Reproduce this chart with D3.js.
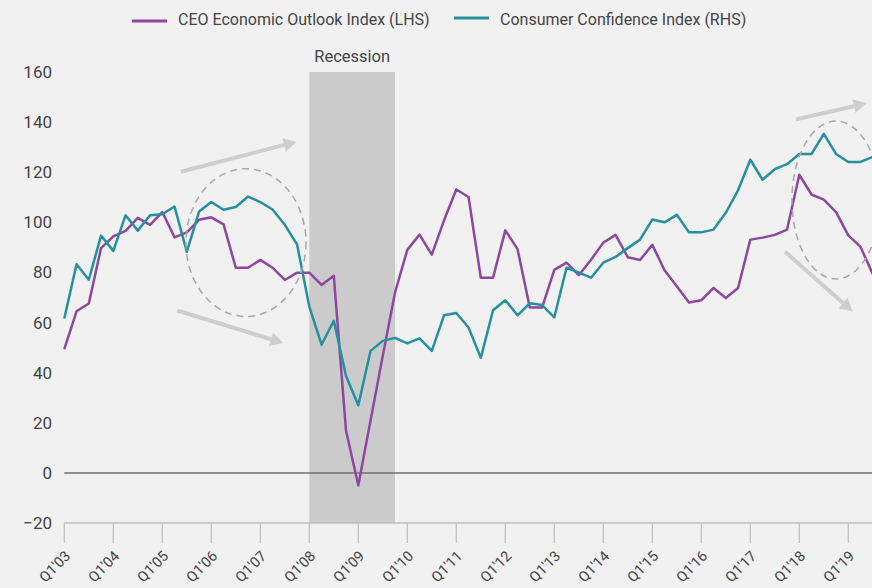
<!DOCTYPE html>
<html>
<head>
<meta charset="utf-8">
<script src="https://cdn.jsdelivr.net/npm/d3@7"></script>
<style>
  body { margin: 0; background: #f1f1f1; }
  svg { display: block; font-family: Roboto, "Open Sans", sans-serif; }
</style>
</head>
<body>
<svg id="chart" width="872" height="588"></svg>
<script>
// chart data
const years = ["03","04","05","06","07","08","09","10","11","12","13","14","15","16","17","18","19"]
const quarters = years.flatMap(y => ["Q1","Q2","Q3","Q4"].map(q => q + "'" + y)).slice(0, 67)
const tickLabels = years.map(y => "Q1'" + y)
const yTicks = [-20, 0, 20, 40, 60, 80, 100, 120, 140, 160]

const ceo = [49.4, 64.5, 67.6, 89.7, 94.4, 96.6, 101.8, 99.0, 104.1, 94.0,
  96.0, 101.0, 102.0, 99.2, 81.9, 81.9, 85.0, 81.9, 77.0, 79.9,
  79.9, 75.0, 78.7, 16.8, -4.9, 20.9, 46.8, 72.0, 89.0, 95.1,
  87.1, 100.8, 113.1, 110.1, 77.9, 77.9, 96.8, 89.3, 66.0, 66.0,
  81.0, 83.9, 78.9, 85.1, 91.9, 95.0, 86.1, 85.0, 91.0, 80.9,
  74.5, 68.0, 68.9, 73.8, 69.8, 73.8, 93.1, 93.9, 95.0, 97.1,
  119.0, 111.1, 109.1, 104.1, 94.8, 90.2, 79.3]
const consumer = [61.6, 83.3, 77.1, 94.7, 88.6, 102.8, 96.7, 102.8, 103.2, 106.3,
  88.2, 104.3, 108.1, 105.0, 106.1, 110.3, 108.1, 105.1, 99.0, 91.2,
  66.4, 51.2, 60.7, 38.7, 27.0, 48.7, 52.7, 53.9, 51.7, 53.7,
  48.7, 62.9, 63.8, 58.0, 45.9, 64.9, 68.9, 62.9, 67.7, 67.0,
  62.1, 81.9, 79.9, 77.9, 83.9, 86.2, 89.7, 93.1, 101.1, 100.0,
  103.0, 96.0, 96.0, 97.1, 103.8, 112.8, 125.0, 117.0, 121.2, 123.2,
  127.3, 127.3, 135.3, 127.3, 124.1, 124.1, 126.1]

const recession = ["Q1'08", "Q4'09"]

// annotation shapes, in quarter index / index value units
const ellipses = [
  {cx: 14.83, cy: 91.9, rx: 4.9, ry: 29.5},
  {cx: 63.0, cy: 108.9, rx: 3.6, ry: 31.5}
]
const arrows = [
  {x1: 9.53, y1: 120.2, x2: 18.97, y2: 132.2},
  {x1: 9.22, y1: 64.8, x2: 17.88, y2: 51.8},
  {x1: 59.73, y1: 141.1, x2: 65.5, y2: 147.5},
  {x1: 58.83, y1: 88.3, x2: 64.36, y2: 64.4}
]

const svg = d3.select("#chart")
const mLeft = 64.3, mRight = 872.8, mTop = 72, mBottom = 523
const textColor = "#444"

const x = d3.scalePoint().domain(quarters).range([mLeft, mRight])
const xi = d3.scaleLinear().domain([0, quarters.length - 1]).range([mLeft, mRight])
const y = d3.scaleLinear().domain([-20, 160]).range([mBottom, mTop])

// recession band
svg.append("rect")
  .attr("x", x(recession[0]))
  .attr("y", y(160))
  .attr("width", x(recession[1]) - x(recession[0]))
  .attr("height", y(-20) - y(160))
  .attr("fill", "#cbcbcb")

svg.append("text")
  .attr("x", (x(recession[0]) + x(recession[1])) / 2)
  .attr("y", 62)
  .attr("text-anchor", "middle")
  .attr("font-size", 16.5)
  .attr("fill", textColor)
  .text("Recession")

// y labels
svg.append("g").selectAll("text")
  .data(yTicks)
  .enter()
  .append("text")
  .attr("x", 52)
  .attr("y", d => y(d))
  .attr("dy", "0.35em")
  .attr("text-anchor", "end")
  .attr("font-size", 17)
  .attr("fill", textColor)
  .text(d => d < 0 ? "\u2212" + Math.abs(d) : d)

// zero line
svg.append("line")
  .attr("x1", mLeft).attr("x2", 872)
  .attr("y1", y(0)).attr("y2", y(0))
  .attr("stroke", "#6f6f6f")
  .attr("stroke-width", 1.5)

// bottom axis
const xAxis = svg.append("g")
xAxis.append("line")
  .attr("x1", mLeft).attr("x2", 872)
  .attr("y1", mBottom).attr("y2", mBottom)
  .attr("stroke", "#bdbdbd")
  .attr("stroke-width", 1.5)
xAxis.selectAll(".tick")
  .data(tickLabels)
  .enter()
  .append("line")
  .attr("x1", d => x(d)).attr("x2", d => x(d))
  .attr("y1", mBottom).attr("y2", mBottom + 20)
  .attr("stroke", "#bdbdbd")
  .attr("stroke-width", 1.2)
xAxis.selectAll(".lbl")
  .data(tickLabels)
  .enter()
  .append("text")
  .attr("transform", d => "translate(" + (x(d) + 7) + "," + 557 + ") rotate(-45)")
  .attr("text-anchor", "end")
  .attr("font-size", 14.5)
  .attr("fill", textColor)
  .text(d => d)

// lines
const line = d3.line()
  .x((d, i) => x(quarters[i]))
  .y(d => y(d))

svg.append("path")
  .datum(ceo)
  .attr("d", line)
  .attr("fill", "none")
  .attr("stroke", "#8e47a0")
  .attr("stroke-width", 2.5)
  .attr("stroke-linejoin", "round")

svg.append("path")
  .datum(consumer)
  .attr("d", line)
  .attr("fill", "none")
  .attr("stroke", "#25909f")
  .attr("stroke-width", 2.5)
  .attr("stroke-linejoin", "round")

// annotations
svg.selectAll(".ell")
  .data(ellipses)
  .enter()
  .append("ellipse")
  .attr("cx", d => xi(d.cx))
  .attr("cy", d => y(d.cy))
  .attr("rx", d => xi(d.rx) - xi(0))
  .attr("ry", d => y(0) - y(d.ry))
  .attr("fill", "none")
  .attr("stroke", "#a8a8a8")
  .attr("stroke-width", 1.5)
  .attr("stroke-dasharray", "7,5")

arrows.forEach(a => {
  const x1 = xi(a.x1), y1 = y(a.y1), x2 = xi(a.x2), y2 = y(a.y2)
  const ang = Math.atan2(y2 - y1, x2 - x1)
  const hl = 13, hw = 7
  const bx = x2 - hl * Math.cos(ang), by = y2 - hl * Math.sin(ang)
  svg.append("line")
    .attr("x1", x1).attr("y1", y1)
    .attr("x2", bx).attr("y2", by)
    .attr("stroke", "#cecece")
    .attr("stroke-width", 4)
  const px = -Math.sin(ang) * hw, py = Math.cos(ang) * hw
  svg.append("path")
    .attr("d", "M" + x2 + "," + y2 + "L" + (bx + px) + "," + (by + py) + "L" + (bx - px) + "," + (by - py) + "Z")
    .attr("fill", "#cecece")
})

// legend
const legend = [
  {name: "CEO Economic Outlook Index (LHS)", color: "#8e47a0", x: 132, y: 21},
  {name: "Consumer Confidence Index (RHS)", color: "#25909f", x: 454, y: 18}
]
const lg = svg.append("g").selectAll("g")
  .data(legend)
  .enter()
  .append("g")
lg.append("line")
  .attr("x1", d => d.x).attr("x2", d => d.x + 35)
  .attr("y1", d => d.y).attr("y2", d => d.y)
  .attr("stroke", d => d.color)
  .attr("stroke-width", 3)
lg.append("text")
  .attr("x", d => d.x + 46)
  .attr("y", 25)
  .attr("font-size", 16)
  .attr("fill", textColor)
  .text(d => d.name)
</script>
</body>
</html>
